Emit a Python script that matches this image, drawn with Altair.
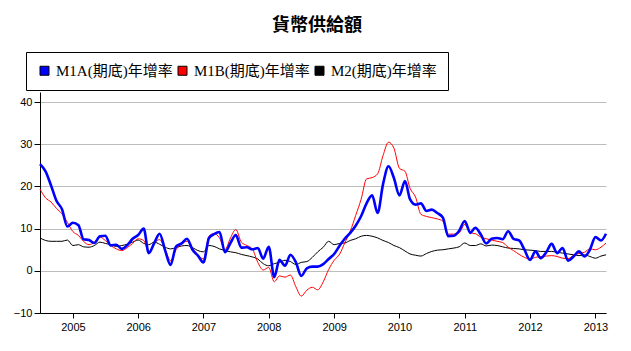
import altair as alt
import pandas as pd

# monthly observations, 2004-07 .. 2013-03
dates = pd.date_range("2004-07-01", "2013-03-01", freq="MS").strftime("%Y-%m-%d").tolist()

series_names = ["M1A(期底)年增率", "M1B(期底)年增率", "M2(期底)年增率"]
series_colors = ["#0000ff", "#ff0000", "#000000"]

m1a = [
    25.3, 23.6, 20.2, 16.6, 14.6, 10.5, 11.4, 10.8, 7.5, 7.3,
    6.6, 8.2, 8.3, 6.0, 6.2, 5.2, 6.1, 7.6, 8.5, 10.0,
    4.2, 6.6, 8.8, 4.8, 1.4, 5.8, 6.5, 7.6, 5.0, 3.6,
    2.0, 7.8, 8.7, 9.2, 4.4, 6.6, 8.5, 5.5, 5.6, 5.1,
    5.4, 2.9, 5.7, -1.5, 2.6, 1.2, 3.8, 2.0, -1.2, 0.6,
    1.0, 1.0, 1.6, 2.8, 4.0, 6.0, 7.6, 9.0, 10.7, 13.0,
    16.0, 17.9, 13.7, 20.5, 24.8, 22.0, 17.9, 21.3, 17.0, 15.7,
    16.0, 14.2, 14.5, 13.7, 12.6, 8.2, 8.3, 9.5, 11.8, 9.0,
    10.2, 8.6, 6.5, 7.6, 7.8, 7.5, 9.4, 7.6, 7.2, 5.0,
    2.6, 4.6, 3.0, 4.4, 6.4, 4.2, 5.4, 2.4, 3.4, 4.6,
    3.4, 5.0, 8.0, 7.2, 8.8,
]

m1b = [
    19.4, 17.3, 16.3, 14.8, 13.5, 11.5, 9.3, 8.4, 7.0, 6.2,
    6.8, 8.0, 7.2, 6.0, 5.2, 4.8, 5.5, 6.5, 7.6, 7.2,
    4.4, 6.6, 7.4, 5.0, 2.4, 5.0, 6.4, 7.0, 5.3, 3.8,
    2.8, 8.2, 8.8, 7.8, 5.0, 7.8, 9.8, 6.8, 6.0, 5.2,
    2.0, 0.2, 0.8, -2.6, -1.2, -1.5, -1.0, -3.8, -6.0, -4.6,
    -3.9, -4.5, -2.6, 0.3, 2.5, 4.0, 6.6, 9.4, 13.1, 17.0,
    21.8, 22.1, 23.0, 27.3, 30.5, 29.1, 24.3, 23.6, 19.6, 17.5,
    13.4, 12.9, 12.6, 12.3, 11.8, 8.7, 8.7, 9.0, 11.0, 9.0,
    8.8, 8.0, 7.6, 7.3, 7.0, 6.7, 5.6, 4.8, 3.9, 3.2,
    2.8, 3.2, 3.4, 3.5, 3.6, 3.4, 3.0, 2.9, 3.7, 4.1,
    4.4, 5.2, 5.0, 5.6, 6.6,
]

m2 = [
    7.8, 7.2, 7.0, 7.0, 7.0, 7.3, 6.0, 6.2, 5.7, 5.6,
    6.0, 6.8, 6.5, 6.2, 5.8, 6.0, 6.3, 6.8, 7.3, 6.5,
    6.2, 6.8, 6.3, 5.6, 5.2, 5.5, 5.9, 6.0, 5.5, 4.8,
    4.5, 6.0, 5.8, 5.2, 4.8, 4.5, 4.3, 3.9, 3.6, 3.3,
    2.8, 1.7, 1.2, 1.7, 2.0, 2.5, 2.2, 1.5, 2.0, 2.2,
    3.2, 4.5, 5.6, 7.0, 6.2, 6.5, 6.6, 7.2, 7.6, 8.2,
    8.4, 8.2, 7.8, 7.2, 6.7, 6.0, 5.5, 4.7, 4.0, 3.7,
    3.5, 4.1, 4.6, 4.9, 5.0, 5.2, 5.4, 5.7, 6.6, 6.0,
    6.0, 6.4, 5.9, 6.1, 6.0, 5.7, 5.4, 5.3, 5.2, 5.0,
    4.9, 4.8, 4.6, 4.6, 4.6, 4.4, 4.2, 4.0, 3.8, 3.6,
    3.8, 3.4, 3.0, 3.5, 3.8,
]

y_ticks = [-10, 0, 10, 20, 30, 40]
x_tick_years = [2005, 2006, 2007, 2008, 2009, 2010, 2011, 2012, 2013]

frames = []
for name, vals in zip(series_names, [m1a, m1b, m2]):
    frames.append(pd.DataFrame({"date": dates, "series": name, "value": vals}))
df = pd.concat(frames, ignore_index=True)

axis_font = "Liberation Sans"
label_font = "'Liberation Serif', 'Noto Sans CJK TC'"

color_scale = alt.Scale(domain=series_names, range=series_colors)

x_enc = alt.X(
    "date:T",
    title=None,
    scale=alt.Scale(
        type="utc",
        nice=False,
        domain=[alt.DateTime(year=2004, month=7, date=1, utc=True),
                alt.DateTime(year=2013, month=3, date=1, utc=True)],
    ),
    axis=alt.Axis(
        values=[alt.DateTime(year=yr, month=1, date=1, utc=True) for yr in x_tick_years],
        format="%Y", formatType="utc",
        grid=False, domainColor="black", tickColor="black", tickSize=5,
        labelFont=axis_font, labelFontSize=11, labelColor="black", labelPadding=3,
        labelFlush=False, labelOverlap=False,
    ),
)
y_enc = alt.Y(
    "value:Q",
    title=None,
    scale=alt.Scale(domain=[-10, 42.4], nice=False, zero=False),
    axis=alt.Axis(
        values=y_ticks, grid=True, gridColor="#bdbdbd", gridWidth=1,
        domainColor="black", tickColor="black", tickSize=6,
        labelFont=axis_font, labelFontSize=11, labelColor="black", labelPadding=2,
        labelFlush=False, labelOverlap=False,
    ),
)

base = alt.Chart(df)

# invisible square points that carry the legend
legend_layer = base.mark_point(shape="square", filled=True, opacity=0).encode(
    x=x_enc,
    y=y_enc,
    stroke=alt.value("black"),
    color=alt.Color(
        "series:N",
        scale=color_scale,
        legend=alt.Legend(
            title=None, orient="none", legendX=-14, legendY=-40,
            direction="horizontal", symbolType="square", symbolSize=81,
            symbolStrokeWidth=1, symbolOpacity=1,
            labelFont=label_font, labelFontSize=15, labelColor="black",
            labelLimit=400, labelOffset=4, columnPadding=2, padding=11,
            strokeColor="black", fillColor="white",
        ),
    ),
)

layers = [legend_layer]
for idx, width in [(2, 1), (1, 1), (0, 2.6)]:
    layers.append(
        base.transform_filter(alt.datum.series == series_names[idx])
        .mark_line(strokeWidth=width, interpolate="monotone")
        .encode(x=x_enc, y=y_enc, color=alt.value(series_colors[idx]))
    )

chart = alt.layer(*layers).properties(
    width=566,
    height=221,
    title=alt.TitleParams(
        text="貨幣供給額", font="Noto Sans CJK TC", fontSize=18, fontWeight="bold",
        color="black", anchor="middle", frame="group", offset=17, dx=-6,
    ),
    autosize=alt.AutoSizeParams(type="none"),
    padding={"left": 40, "top": 92, "right": 25, "bottom": 38},
    background="white",
).configure_view(stroke=None)

chart.save("out.html", embed_options={"renderer": "svg", "actions": False})
